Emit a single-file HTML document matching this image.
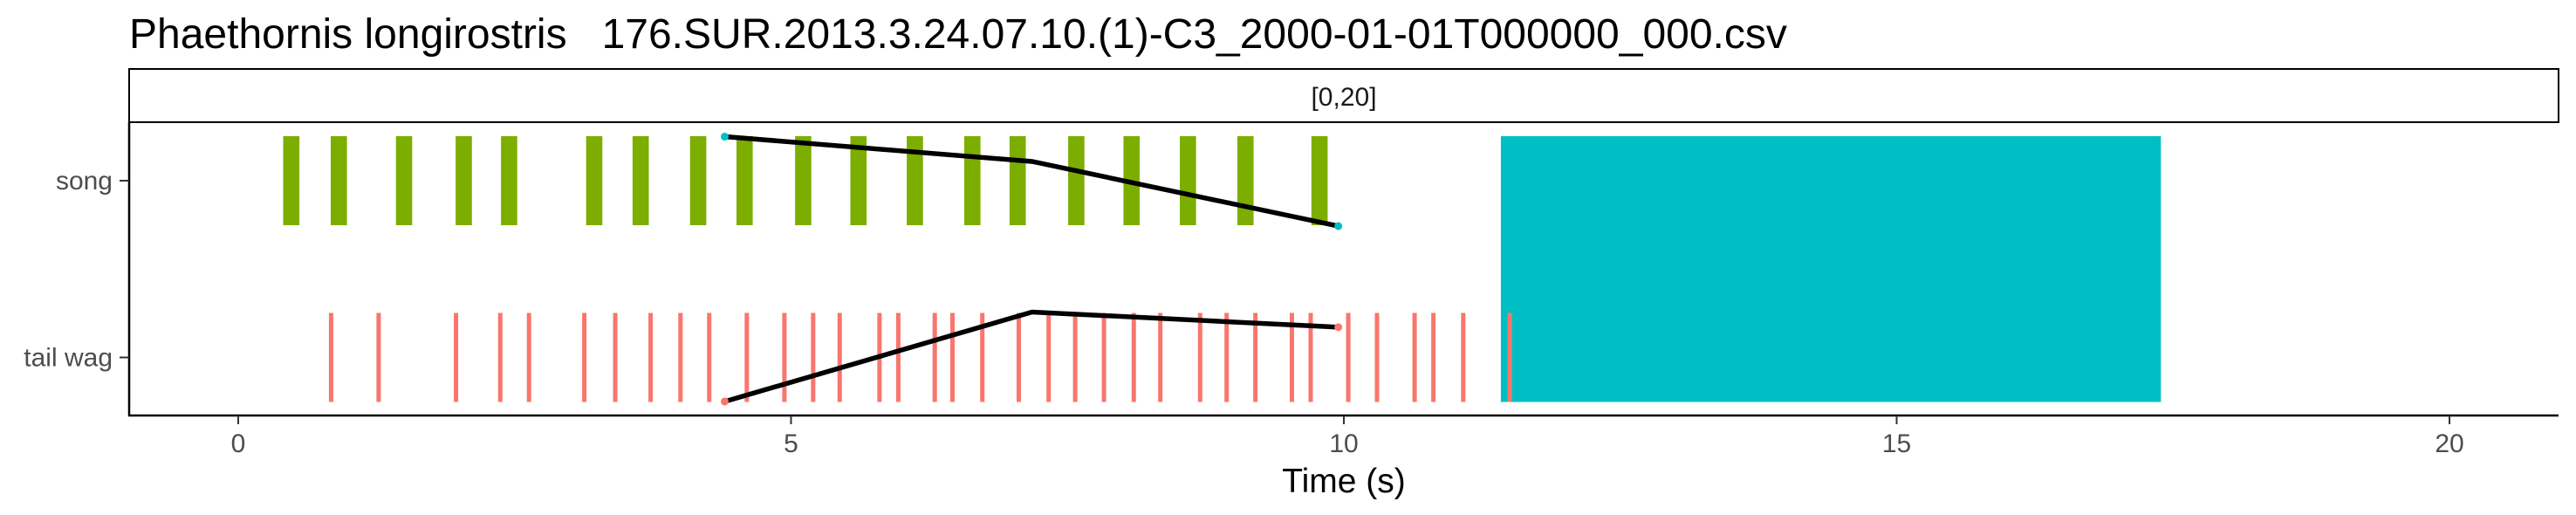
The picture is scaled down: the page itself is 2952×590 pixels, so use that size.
<!DOCTYPE html>
<html><head><meta charset="utf-8"><style>
html,body{margin:0;padding:0;background:#fff;}
svg{display:block;font-family:"Liberation Sans",sans-serif;}
</style></head><body>
<svg id="chart" width="2952" height="590" viewBox="0 0 2952 590">
<text x="148" y="55" font-size="48" fill="#000" style="white-space:pre" xml:space="preserve">Phaethornis longirostris   176.SUR.2013.3.24.07.10.(1)-C3_2000-01-01T000000_000.csv</text>
<rect x="148" y="79" width="2784" height="61" fill="#fff" stroke="#000" stroke-width="2"/>
<text x="1540" y="121" font-size="30" text-anchor="middle" fill="#1a1a1a">[0,20]</text>
<g id="marks"></g>
<line x1="148" y1="140" x2="148" y2="476" stroke="#000" stroke-width="2.5"/>
<line x1="147" y1="476" x2="2932" y2="476" stroke="#000" stroke-width="2.5"/>
<g id="axes"></g>
<text x="1540" y="564" font-size="39" text-anchor="middle" fill="#000">Time (s)</text>
</svg>
<script>
const songStarts = [0.48,0.91,1.50,2.04,2.45,3.22,3.64,4.16,4.58,5.11,5.61,6.12,6.64,7.05,7.58,8.08,8.59,9.11,9.78];
const wagTimes = [0.84,1.27,1.97,2.37,2.63,3.13,3.41,3.73,4.00,4.26,4.60,4.94,5.20,5.44,5.80,5.97,6.30,6.46,6.73,7.06,7.33,7.57,7.83,8.10,8.34,8.70,8.94,9.20,9.53,9.70,10.04,10.30,10.64,10.81,11.08,11.50];
const blockStart = [11.42];
const blockEnd = [17.39];
const songLineX = [4.40,7.18,9.95];
const songLineY = [0.495,0.216,-0.51];
const wagLineX = [4.40,7.18,9.95];
const wagLineY = [-0.495,0.51,0.34];
const xTicks = [0,5,10,15,20];
const categories = ["song","tail wag"];

const NS="http://www.w3.org/2000/svg";
const x = t => 273 + t*126.7;
const catY = c => c===0 ? 207 : 409.5;
const y = (c,v) => catY(c) - v*102;
const marks=document.getElementById('marks'), axes=document.getElementById('axes');
function mk(tag,attrs,parent){const e=document.createElementNS(NS,tag);for(const k in attrs)e.setAttribute(k,attrs[k]);parent.appendChild(e);return e;}

for(let i=0;i<blockStart.length;i++){
  const r=mk('rect',{x:x(blockStart[i]),y:y(0,0.5),width:x(blockEnd[i])-x(blockStart[i]),height:y(1,-0.5)-y(0,0.5),fill:'#00BFC4'},marks);
  
  
}
songStarts.forEach(s=>{
  const r=mk('rect',{x:x(s)-9.3,y:y(0,0.5),width:18.6,height:102,fill:'#7CAE00'},marks);
  
  
});
wagTimes.forEach(s=>{
  const l=mk('line',{x1:x(s),x2:x(s),y1:y(1,0.5),y2:y(1,-0.5),stroke:'#F8766D','stroke-width':5},marks);
  
  
});
function drawLine(xs,ys,c,col,name){
  const p=mk('polyline',{points:xs.map((t,i)=>x(t)+','+y(c,ys[i])).join(' '),fill:'none',stroke:'#000','stroke-width':5.5},marks);
  
  
  [0,xs.length-1].forEach(i=>{
    const d=mk('circle',{cx:x(xs[i]),cy:y(c,ys[i]),r:4.5,fill:col},marks);
    
    
  });
}
drawLine(songLineX,songLineY,0,'#00BFC4','song-trend-line');
drawLine(wagLineX,wagLineY,1,'#F8766D','tail-wag-trend-line');

xTicks.forEach(t=>{
  const l=mk('line',{x1:x(t),x2:x(t),y1:476,y2:486,stroke:'#333','stroke-width':2},axes);
  
  
  const tx=mk('text',{x:x(t),y:518,'font-size':30,'text-anchor':'middle',fill:'#4d4d4d'},axes);
  tx.textContent=t;
  
  
});
categories.forEach((c,i)=>{
  const l=mk('line',{x1:137,x2:148,y1:catY(i),y2:catY(i),stroke:'#333','stroke-width':2},axes);
  
  
  const tx=mk('text',{x:129,y:catY(i)+10,'font-size':30,'text-anchor':'end',fill:'#4d4d4d'},axes);
  tx.textContent=c;
  
  
});
</script>
</body></html>
